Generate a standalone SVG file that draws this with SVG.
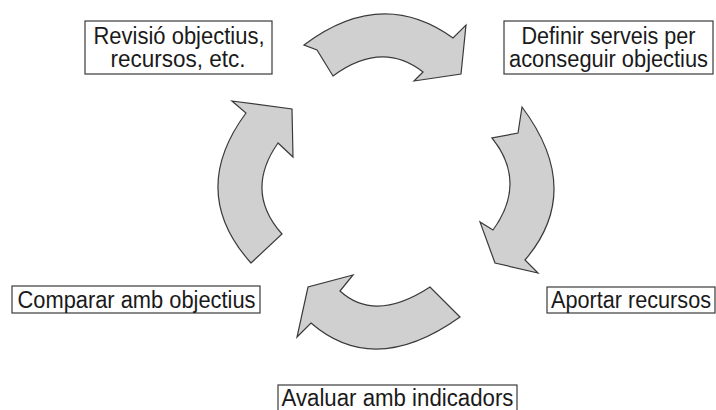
<svg xmlns="http://www.w3.org/2000/svg" width="716" height="410" viewBox="0 0 716 410">
<style>
.arrow{fill:#d0d0d0;stroke:#3a3a3a;stroke-width:1.2;stroke-linejoin:miter}
.box{fill:#fff;stroke:#3a3a3a;stroke-width:1.2}
.lbl{font-family:"Liberation Sans",Arial,sans-serif;font-size:23px;fill:#1a1a1a;text-anchor:middle}
</style>
<rect width="716" height="410" fill="#fff"/>
<g id="connectors">
<path class="arrow" d="M304,45 Q381.5,-13.5 453,38 L466,25 L461,74 L414,81 L423,72 Q382,40 333,76 L317,50 Z"/>
<path class="arrow" d="M522,107 L518,133 L492,138 Q527.5,182 493,230 L480,222 L495,263 L538,273 L525,260 Q584.5,190.5 522,107 Z"/>
<path class="arrow" d="M460,317 L430,287 Q375,323 340,291 L353,275 L308,287 L297,337 L311,323 Q374.5,378 460,317 Z"/>
<path class="arrow" d="M251,263 L282,234 Q244,191.5 278,143 L293,157 L292,109 L232,101 L246,113 Q187.5,192 251,263 Z"/>
</g>
<g id="node-revisio">
<rect class="box" x="85" y="21" width="187" height="53"/>
<text class="lbl" x="179" y="44" textLength="171" lengthAdjust="spacingAndGlyphs">Revisió objectius,</text>
<text class="lbl" x="178" y="67" textLength="135" lengthAdjust="spacingAndGlyphs">recursos, etc.</text>
</g>
<g id="node-definir">
<rect class="box" x="504" y="21" width="209" height="53"/>
<text class="lbl" x="608.5" y="44" textLength="174" lengthAdjust="spacingAndGlyphs">Definir serveis per</text>
<text class="lbl" x="608.5" y="67" textLength="199" lengthAdjust="spacingAndGlyphs">aconseguir objectius</text>
</g>
<g id="node-comparar">
<rect class="box" x="12" y="286" width="248" height="27"/>
<text class="lbl" x="136.5" y="308" textLength="238" lengthAdjust="spacingAndGlyphs">Comparar amb objectius</text>
</g>
<g id="node-aportar">
<rect class="box" x="547" y="287" width="168" height="26"/>
<text class="lbl" x="631" y="308" textLength="160" lengthAdjust="spacingAndGlyphs">Aportar recursos</text>
</g>
<g id="node-avaluar">
<rect class="box" x="278" y="385" width="239" height="30"/>
<text class="lbl" x="397.5" y="406" textLength="232" lengthAdjust="spacingAndGlyphs">Avaluar amb indicadors</text>
</g>
</svg>
